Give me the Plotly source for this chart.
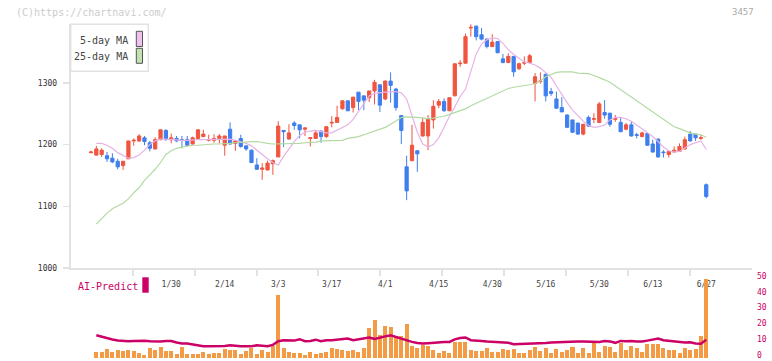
import plotly.graph_objects as go

W, H = 772, 361


def px(x):
    return x / W


def py(y):
    return 1 - y / H


# ---------------- data ----------------
opens = [1187, 1183, 1184, 1182, 1178, 1173, 1166, 1177, 1206, 1206,
         1211, 1203, 1193, 1208, 1223, 1208, 1210, 1208, 1208, 1201,
         1210, 1213, 1207, 1207, 1210, 1199, 1225, 1202, 1210, 1198,
         1191, 1167, 1160, 1159, 1169, 1180, 1223, 1209, 1235, 1232,
         1225, 1210, 1210, 1222, 1213, 1235, 1236, 1258, 1271, 1260,
         1285, 1279, 1276, 1287, 1297, 1274, 1303, 1290, 1247, 1164,
         1174, 1190, 1214, 1214, 1240, 1264, 1270, 1255, 1279, 1331,
         1332, 1389, 1392, 1378, 1371, 1359, 1367, 1339, 1333, 1343,
         1323, 1332, 1333, 1299, 1302, 1314, 1286, 1274, 1260, 1248,
         1240, 1235, 1217, 1244, 1241, 1236, 1252, 1251, 1241, 1236,
         1225, 1232, 1216, 1213, 1218, 1201, 1209, 1188, 1184, 1188,
         1189, 1193, 1217, 1217, 1210, 1135]

highs = [1190, 1198, 1194, 1188, 1186, 1177, 1173, 1206, 1210, 1217,
         1214, 1206, 1212, 1224, 1225, 1218, 1214, 1214, 1214, 1213,
         1224, 1224, 1216, 1217, 1217, 1214, 1236, 1207, 1216, 1198,
         1192, 1178, 1170, 1174, 1176, 1238, 1223, 1233, 1238, 1232,
         1228, 1212, 1223, 1223, 1230, 1246, 1263, 1271, 1271, 1277,
         1285, 1279, 1287, 1305, 1297, 1304, 1317, 1292, 1247, 1182,
         1232, 1190, 1244, 1248, 1272, 1274, 1275, 1277, 1331, 1337,
         1380, 1395, 1393, 1389, 1372, 1379, 1367, 1347, 1348, 1343,
         1333, 1343, 1347, 1316, 1317, 1315, 1292, 1286, 1277, 1249,
         1240, 1235, 1233, 1247, 1251, 1269, 1272, 1251, 1248, 1243,
         1235, 1238, 1219, 1221, 1219, 1208, 1210, 1191, 1189, 1197,
         1202, 1213, 1222, 1217, 1216, 1137]

lows = [1186, 1182, 1180, 1172, 1170, 1160, 1159, 1177, 1198, 1204,
        1199, 1189, 1192, 1207, 1206, 1202, 1204, 1194, 1198, 1200,
        1210, 1212, 1205, 1203, 1202, 1182, 1200, 1190, 1195, 1190,
        1170, 1159, 1143, 1158, 1151, 1180, 1196, 1208, 1224, 1210,
        1214, 1197, 1209, 1203, 1211, 1228, 1235, 1257, 1254, 1252,
        1256, 1256, 1269, 1265, 1253, 1272, 1268, 1255, 1201, 1110,
        1173, 1156, 1213, 1191, 1226, 1259, 1253, 1254, 1279, 1326,
        1331, 1375, 1369, 1369, 1356, 1358, 1348, 1332, 1332, 1310,
        1321, 1329, 1332, 1270, 1299, 1270, 1279, 1258, 1253, 1227,
        1219, 1216, 1215, 1229, 1235, 1235, 1242, 1229, 1237, 1220,
        1223, 1213, 1210, 1212, 1198, 1187, 1179, 1179, 1179, 1187,
        1188, 1192, 1205, 1206, 1208, 1113]

closes = [1188, 1193, 1191, 1177, 1172, 1164, 1173, 1206, 1207, 1214,
          1205, 1194, 1208, 1224, 1209, 1211, 1206, 1207, 1199, 1211,
          1224, 1217, 1208, 1210, 1214, 1214, 1201, 1206, 1197, 1193,
          1171, 1160, 1162, 1170, 1174, 1230, 1221, 1219, 1231, 1224,
          1227, 1211, 1219, 1213, 1229, 1236, 1244, 1271, 1255, 1277,
          1270, 1272, 1287, 1301, 1264, 1303, 1296, 1260, 1223, 1125,
          1199, 1185, 1236, 1241, 1262, 1270, 1255, 1276, 1331, 1332,
          1375, 1390, 1375, 1371, 1359, 1366, 1349, 1333, 1343, 1318,
          1331, 1333, 1344, 1310, 1303, 1279, 1283, 1259, 1253, 1228,
          1220, 1217, 1233, 1230, 1242, 1266, 1248, 1233, 1242, 1221,
          1232, 1214, 1215, 1219, 1199, 1188, 1180, 1187, 1189, 1191,
          1197, 1208, 1206, 1211, 1211, 1116]

# 5-day and 25-day moving averages as drawn (from day 2 on)
ma5 = [1202, 1202, 1199, 1194, 1187, 1182, 1178, 1179, 1183, 1191,
       1200, 1206, 1209, 1209, 1208, 1208, 1207, 1207, 1208, 1208,
       1208, 1208, 1208, 1209, 1209, 1209, 1207, 1205, 1202, 1198,
       1191, 1183, 1177, 1171, 1167, 1181, 1194, 1205, 1215, 1220,
       1222, 1223, 1221, 1219, 1219, 1223, 1227, 1232, 1241, 1254,
       1266, 1279, 1283, 1284, 1286, 1286, 1286, 1284, 1274, 1245,
       1220, 1201, 1196, 1200, 1211, 1228, 1246, 1261, 1278, 1290,
       1319, 1347, 1363, 1370, 1373, 1372, 1364, 1354, 1346, 1340,
       1334, 1332, 1329, 1324, 1317, 1309, 1295, 1281, 1268, 1256,
       1247, 1238, 1231, 1228, 1229, 1232, 1240, 1244, 1244, 1242,
       1238, 1232, 1225, 1219, 1213, 1205, 1196, 1190, 1188, 1189,
       1194, 1200, 1203, 1206, 1192]

ma25 = [1071, 1080, 1089, 1096, 1100, 1105, 1112, 1122, 1130, 1142,
        1151, 1160, 1171, 1184, 1190, 1194, 1196, 1198, 1199, 1199,
        1200, 1201, 1201, 1201, 1201, 1202, 1203, 1204, 1205, 1205,
        1205, 1203, 1202, 1201, 1201, 1201, 1201, 1201, 1202, 1203,
        1203, 1204, 1206, 1206, 1206, 1206, 1207, 1210, 1211, 1213,
        1216, 1219, 1222, 1224, 1228, 1233, 1239, 1244, 1245, 1245,
        1244, 1243, 1242, 1243, 1244, 1246, 1249, 1252, 1255, 1258,
        1263, 1267, 1272, 1276, 1280, 1284, 1288, 1291, 1293, 1294,
        1296, 1297, 1299, 1303, 1310, 1314, 1317, 1318, 1318, 1318,
        1316, 1316, 1315, 1312, 1309, 1305, 1301, 1295, 1289, 1284,
        1277, 1271, 1266, 1260, 1254, 1247, 1242, 1235, 1229, 1226,
        1222, 1219, 1217, 1216, 1212]

volume = [3.6, 3.6, 5.5, 3.6, 5.1, 4.4, 5.3, 4.3, 3.2, 1.7,
          6.2, 4.9, 6.8, 4.3, 4.3, 2.4, 6.8, 2.4, 2.4, 2.4,
          3.6, 2.4, 3.0, 3.0, 5.5, 4.9, 4.9, 2.8, 4.3, 6.6,
          2.8, 4.9, 3.6, 7.4, 39.8, 6.6, 3.6, 3.0, 3.0, 1.7,
          3.6, 2.4, 3.0, 3.6, 6.2, 5.5, 4.9, 4.4, 4.9, 3.6,
          6.6, 18.7, 24.0, 14.4, 20.1, 19.8, 13.8, 14.2, 21.4, 7.4,
          6.6, 8.1, 7.4, 4.9, 3.0, 4.4, 3.0, 10.4, 10.0, 10.0,
          5.1, 4.4, 4.3, 6.2, 3.6, 3.6, 5.5, 4.9, 5.5, 3.0,
          3.0, 4.9, 7.2, 4.3, 6.2, 3.0, 5.5, 3.6, 4.9, 6.8,
          3.0, 6.2, 3.0, 9.3, 3.6, 7.4, 6.8, 3.6, 9.3, 4.9,
          7.4, 6.2, 3.6, 8.7, 8.7, 8.7, 6.2, 4.9, 4.9, 3.0,
          6.2, 4.9, 5.5, 13.8, 52.0]

ai_predict = [14.4, 13.5, 12.3, 11.7, 11.1, 10.8, 10.6, 10.7, 10.9, 10.9,
              10.6, 10.4, 10.5, 10.7, 10.8, 9.8, 9.2, 9.2, 8.5, 7.8,
              7.5, 7.4, 7.4, 7.5, 7.6, 8.0, 7.6, 7.4, 7.4, 7.4,
              8.0, 7.6, 7.4, 8.3, 10.6, 11.2, 11.0, 11.0, 11.9, 10.6,
              10.8, 11.6, 10.6, 11.2, 11.2, 11.6, 12.1, 12.3, 11.2, 11.8,
              12.6, 13.0, 12.0, 13.0, 13.7, 14.4, 13.3, 12.2, 10.9, 10.2,
              9.5, 9.2, 9.4, 9.8, 10.2, 10.2, 10.2, 11.8, 12.6, 13.0,
              11.3, 11.2, 10.8, 10.4, 10.2, 10.2, 10.2, 9.6, 8.7, 8.8,
              8.9, 8.9, 8.9, 9.2, 9.5, 9.8, 10.0, 10.0, 10.1, 10.2,
              10.4, 10.4, 10.2, 10.2, 10.2, 10.8, 10.5, 9.6, 10.8, 10.6,
              10.8, 10.4, 10.4, 11.0, 11.6, 12.3, 11.2, 10.8, 10.2, 9.9,
              9.8, 10.0, 9.2, 9.0, 11.5]

date_tick_index = [15, 25, 35, 45, 55, 65, 75, 85, 95, 105, 115]
date_tick_text = ["1/30", "2/14", "3/3", "3/17", "4/1", "4/15",
                  "4/30", "5/16", "5/30", "6/13", "6/27"]
price_ticks = [1000, 1100, 1200, 1300]
ai_ticks = [0, 10, 20, 30, 40, 50]

# ---------------- styling ----------------
MONO = "DejaVu Sans Mono"
RED = "#F0553F"
BLUE = "#3F7FEE"
PINK = "#E6B2E6"
GREEN = "#B2DAA2"
ORANGE = "#F39A45"
MAG = "#CC0066"
AXIS = "#E2E2E2"

idx = list(range(len(closes)))
idx1 = idx[1:]

fig = go.Figure()
fig.add_trace(go.Candlestick(
    x=idx, open=opens, high=highs, low=lows, close=closes,
    increasing=dict(line=dict(color=RED, width=1), fillcolor=RED),
    decreasing=dict(line=dict(color=BLUE, width=1), fillcolor=BLUE),
    whiskerwidth=0, showlegend=False, hoverinfo="skip"))
fig.add_trace(go.Scatter(x=idx1, y=ma5, mode="lines",
                         line=dict(color=PINK, width=1.2),
                         showlegend=False, hoverinfo="skip"))
fig.add_trace(go.Scatter(x=idx1, y=ma25, mode="lines",
                         line=dict(color=GREEN, width=1.2),
                         showlegend=False, hoverinfo="skip"))
fig.add_trace(go.Bar(x=idx1, y=volume, width=0.75,
                     marker=dict(color=ORANGE, line=dict(width=0)),
                     xaxis="x2", yaxis="y2", showlegend=False, hoverinfo="skip"))
fig.add_trace(go.Scatter(x=idx1, y=ai_predict, mode="lines",
                         line=dict(color=MAG, width=2.5),
                         xaxis="x2", yaxis="y2", showlegend=False, hoverinfo="skip"))

xr = [-3.79, 123.55]
minor_ticks = [xr[0] + k * (xr[1] - xr[0]) / 11 for k in range(1, 11)]
xdom = [px(70.7), px(752)]

fig.update_layout(
    width=W, height=H, margin=dict(l=0, r=0, t=0, b=0, autoexpand=False),
    paper_bgcolor="white", plot_bgcolor="white", showlegend=False,
    boxgap=0.14, bargap=0,
    xaxis=dict(domain=xdom, range=xr, anchor="y", tickmode="array",
               tickvals=date_tick_index, ticktext=date_tick_text, ticks="",
               showgrid=False, zeroline=False, showline=True, automargin=False,
               linecolor=AXIS, linewidth=2,
               tickfont=dict(family=MONO, size=8, color="#444"),
               ticklabelstandoff=7, rangeslider=dict(visible=False),
               minor=dict(tickmode="array", tickvals=minor_ticks, ticks="outside",
                          ticklen=6, tickwidth=2, tickcolor=AXIS, showgrid=False)),
    yaxis=dict(domain=[py(268), py(24)], range=[1000, 1395.5], anchor="x",
               tickvals=price_ticks, ticks="outside", ticklen=6, tickwidth=1.5,
               tickcolor=AXIS, showline=True, linecolor=AXIS, linewidth=2,
               showgrid=False, zeroline=False, automargin=False,
               tickfont=dict(family=MONO, size=8, color="#333"),
               ticklabelstandoff=4),
    xaxis2=dict(domain=xdom, range=xr, anchor="y2", visible=False,
                automargin=False),
    yaxis2=dict(domain=[py(358), py(279)], range=[0, 50], anchor="x2",
                side="right", tickvals=ai_ticks, ticks="", showgrid=False,
                zeroline=False, showline=False, automargin=False,
                ticklabeloverflow="allow", ticklabelshift=-3,
                tickfont=dict(family=MONO, size=8, color=MAG),
                ticklabelstandoff=4),
)

shapes = [
    # legend box
    dict(type="rect", xref="paper", yref="paper", x0=px(70.7), x1=px(148.3),
         y0=py(71.3), y1=py(24.3), line=dict(color=AXIS, width=1.5),
         fillcolor="white", layer="above"),
    dict(type="rect", xref="paper", yref="paper", x0=px(136.3), x1=px(142.5),
         y0=py(46.5), y1=py(31.3), line=dict(color="#555", width=1),
         fillcolor="#F0C0F0", layer="above"),
    dict(type="rect", xref="paper", yref="paper", x0=px(136.3), x1=px(142.5),
         y0=py(63.3), y1=py(48.3), line=dict(color="#555", width=1),
         fillcolor="#C2E2B2", layer="above"),
    # AI-Predict marker
    dict(type="rect", xref="paper", yref="paper", x0=px(142.3), x1=px(148.7),
         y0=py(292.7), y1=py(277.3), line=dict(width=0),
         fillcolor=MAG, layer="above"),
]
fig.update_layout(shapes=shapes)

ann = [
    dict(text="(C)https://chartnavi.com/", x=px(14), y=py(12), xanchor="left",
         font=dict(family=MONO, size=10, color="#CCCCCC")),
    dict(text="3457", x=px(756), y=py(12), xanchor="right",
         font=dict(family=MONO, size=9, color="#AAAAAA")),
    dict(text="5-day MA", x=px(130), y=py(40.5), xanchor="right",
         font=dict(family=MONO, size=10, color="#444")),
    dict(text="25-day MA", x=px(130), y=py(56.5), xanchor="right",
         font=dict(family=MONO, size=10, color="#444")),
    dict(text="AI-Predict", x=px(75.5), y=py(286), xanchor="left",
         font=dict(family=MONO, size=10, color=MAG)),
]
for a in ann:
    a.update(xref="paper", yref="paper", yanchor="middle", showarrow=False)
fig.update_layout(annotations=ann)

page_css = ("document.body.style.margin='0px';"
            "document.body.style.padding='0px';"
            "document.documentElement.style.overflow='hidden';")
fig.write_html("out.html", post_script=page_css,
               config={"displayModeBar": False, "staticPlot": True})
